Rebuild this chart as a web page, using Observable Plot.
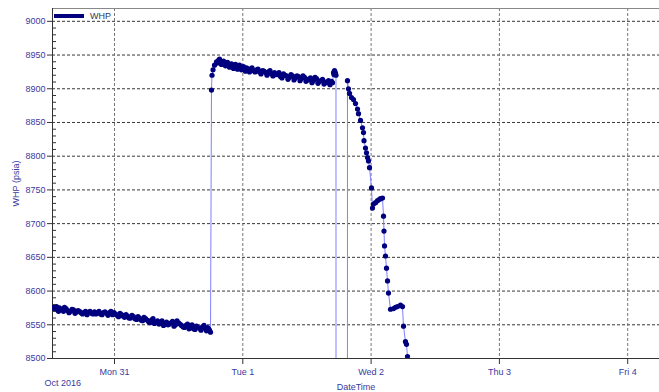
<!DOCTYPE html>
<html><head><meta charset="utf-8">
<script src="https://cdn.jsdelivr.net/npm/d3@7"></script>
<script src="https://cdn.jsdelivr.net/npm/@observablehq/plot@0.6"></script>
<style>
body{margin:0;background:#fff;}
#wrap{position:relative;width:659px;height:392px;font-family:"Liberation Sans",Arial,sans-serif;}
#legend{position:absolute;left:54px;top:11px;display:flex;align-items:center;font-size:9px;color:#333355;z-index:2;}
#legend .sw{display:inline-block;width:30px;height:4px;background:#00007f;margin-right:6px;}
#wrap svg{display:block;}
</style></head><body>
<div id="wrap"><div id="legend"><span class="sw"></span><span id="lname"></span></div></div>
<script>
const seriesName = "WHP";
const yLabel = "WHP (psia)";
const xLabel = "DateTime";
const periodLabel = "Oct 2016";
const baseTime = "2016-10-31T00:00Z"; // hours below are counted from this instant
// hours since Oct 31 00:00 (first reading of the samples)
const hours = [
  -11.41,-11.04,-10.66,-10.29,-9.73,-9.35,-8.79,-8.23,-7.67,-7.11,-6.55,-5.99,-5.42,-4.86,-4.30,-3.74,-3.18,-2.62,-2.06,-1.50,-0.94,-0.37,
  0.19,0.75,1.31,1.87,2.43,2.99,3.55,4.12,4.68,5.24,5.80,6.36,6.92,7.48,8.04,8.60,9.17,9.73,10.29,10.85,11.41,11.97,12.53,13.09,13.66,
  14.22,14.78,15.34,15.90,16.46,17.02,17.40,17.77,17.96,
  18.14,18.24,18.43,18.71,19.08,19.45,19.83,20.20,20.58,20.95,21.32,21.70,22.07,22.45,22.82,23.20,23.57,23.94,24.32,24.69,25.07,25.44,
  26.00,26.56,27.12,27.68,28.25,28.81,29.37,29.93,30.49,31.05,31.61,32.17,32.74,33.30,33.86,34.42,34.98,35.54,36.10,36.66,37.23,37.79,
  38.35,38.91,39.47,40.03,40.59,40.97,41.15,41.34,41.43,
  41.53,43.49,
  43.58,43.77,43.96,44.33,44.71,45.08,45.46,45.64,46.02,46.39,46.58,46.67,46.95,47.14,47.33,47.51,47.70,48.07,48.26,48.45,48.82,49.20,
  49.57,49.76,50.13,50.32,50.41,50.51,50.69,50.88,51.07,51.25,51.63,52.19,52.56,52.94,53.50,53.87,54.06,54.43,54.62,54.81
];
const whp = [
  8576,8574,8572,8575,8573,8576,8571,8570,8572,8569,8570,8566,8570,8568,8567,8569,8568,8566,8568,8567,8568,8565,
  8566,8562,8565,8561,8563,8560,8562,8558,8560,8556,8559,8555,8557,8552,8556,8553,8549,8554,8551,8555,8550,8553,8549,8546,8551,
  8547,8544,8548,8545,8547,8544,8546,8542,8539,
  8898,8920,8928,8935,8940,8942,8940,8938,8939,8936,8937,8935,8933,8935,8932,8933,8930,8932,8929,8931,8928,8929,
  8927,8928,8925,8927,8924,8925,8922,8924,8921,8918,8922,8919,8917,8919,8916,8918,8915,8917,8914,8916,8912,8915,
  8911,8914,8910,8912,8911,8924,8927,8923,8920,
  0,0,
  8912,8900,8893,8887,8884,8878,8870,8863,8853,8842,8835,8823,8812,8805,8798,8793,8783,8753,8723,8729,8731,8734,
  8736,8737,8738,8711,8689,8667,8652,8634,8615,8597,8573,8574,8576,8577,8579,8577,8548,8525,8521,8503
];
// second reading of the dense sample bands (in-between dots)
const hoursDense = [
  -11.22,-10.85,-10.47,-10.01,-9.54,-9.07,-8.51,-7.95,-7.39,-6.83,-6.27,-5.70,-5.14,-4.58,-4.02,-3.46,-2.90,-2.34,-1.78,-1.22,-0.66,-0.09,
  0.47,1.03,1.59,2.15,2.71,3.27,3.83,4.40,4.96,5.52,6.08,6.64,7.20,7.76,8.32,8.88,9.45,10.01,10.57,11.13,11.69,12.25,12.81,13.37,13.94,
  14.50,15.06,15.62,16.18,16.74,17.21,17.58,
  19.27,19.64,20.01,20.39,20.76,21.13,21.51,21.88,22.26,22.63,23.01,23.38,23.75,24.13,24.50,24.88,25.25,25.72,26.28,26.84,27.40,27.96,
  28.53,29.09,29.65,30.21,30.77,31.33,31.89,32.45,33.02,33.58,34.14,34.70,35.26,35.82,36.38,36.94,37.51,38.07,38.63,39.19,39.75,40.31,
  40.78,41.05,41.24
];
const whpDense = [
  8573,8577,8570,8572,8570,8574,8568,8573,8567,8571,8568,8568,8565,8570,8566,8566,8570,8565,8569,8564,8570,8568,
  8564,8567,8563,8565,8560,8564,8559,8562,8557,8561,8557,8553,8559,8554,8551,8556,8552,8550,8553,8548,8556,8551,8547,8549,8544,
  8550,8543,8546,8542,8549,8541,8544,
  8938,8944,8936,8941,8934,8939,8932,8937,8930,8936,8929,8935,8928,8933,8926,8930,8925,8931,8925,8929,8922,8926,
  8920,8927,8919,8921,8924,8916,8920,8914,8921,8913,8919,8912,8919,8911,8913,8909,8917,8908,8912,8907,8909,8906,
  8909,8921,8925
];
const dayTicks = ["2016-10-31","2016-11-01","2016-11-02","2016-11-03","2016-11-04"];
const yMajor = [8500,8550,8600,8650,8700,8750,8800,8850,8900,8950,9000];
const yMinor = [8510,8520,8530,8540,8560,8570,8580,8590,8610,8620,8630,8640,8660,8670,8680,8690,8710,8720,8730,8740,
  8760,8770,8780,8790,8810,8820,8830,8840,8860,8870,8880,8890,8910,8920,8930,8940,8960,8970,8980,8990];
const xDomain = ["2016-10-30T12:24Z","2016-11-04T05:57Z"];
const yDomain = [8500, 9019];

const t0 = new Date(baseTime).getTime();
const rows = [];
for (let i = 0; i < Math.min(hours.length, whp.length); i++) rows.push({h: hours[i], v: whp[i]});
for (let i = 0; i < Math.min(hoursDense.length, whpDense.length); i++) rows.push({h: hoursDense[i], v: whpDense[i]});
rows.sort((a, b) => a.h - b.h);
const data = rows.map(r => ({t: new Date(t0 + r.h*3600e3), v: r.v}));
const days = dayTicks.map(d => new Date(d + "T00:00Z"));
const blue = "#3a3a9e";

document.getElementById("lname").textContent = seriesName;

const chart = Plot.plot({
  width: 659, height: 392,
  marginLeft: 52, marginRight: 0, marginTop: 8, marginBottom: 34,
  style: {fontFamily: "'Liberation Sans', Arial, sans-serif", fontSize: "9px", background: "#fff", overflow: "visible"},
  x: {type: "utc", domain: xDomain.map(d => new Date(d))},
  y: {domain: yDomain},
  marks: [
    Plot.gridY(yMajor.filter(d => d > yDomain[0]), {stroke: "#222", strokeOpacity: 0.9, strokeDasharray: "3,2"}),
    Plot.gridX(days, {stroke: "#777", strokeOpacity: 1, strokeDasharray: "3,2"}),
    Plot.frame({anchor: "top", stroke: "#888"}),
    Plot.frame({anchor: "left", stroke: "#333"}),
    Plot.frame({anchor: "bottom", stroke: "#333"}),
    Plot.line(data, {x: "t", y: "v", stroke: "#8080ff", strokeWidth: 1, clip: true}),
    Plot.dot(data, {x: "t", y: "v", r: 2.6, fill: "#00007f", stroke: "none", clip: true}),
    Plot.axisY(yMajor, {tickSize: 5, tickFormat: () => "", color: "#333", label: null}),
    Plot.axisY(yMinor, {tickSize: -4, tickFormat: () => "", color: "#333", label: null}),
    Plot.axisY(yMajor, {tickSize: 0, tickPadding: 7, color: blue, tickFormat: d => String(d),
      label: yLabel, labelAnchor: "center", labelArrow: "none", labelOffset: 40}),
    Plot.axisX(days, {tickSize: 6, tickFormat: () => "", color: "#333", label: null}),
    Plot.axisX(days, {tickSize: 0, tickPadding: 10, color: blue, tickFormat: d3.utcFormat("%a %-d"),
      label: xLabel, labelAnchor: "center", labelArrow: "none", labelOffset: 31}),
    Plot.text([periodLabel], {frameAnchor: "bottom-left", textAnchor: "start", dx: -8, dy: 27, fill: blue})
  ]
});
document.getElementById("wrap").appendChild(chart);
</script>
</body></html>
